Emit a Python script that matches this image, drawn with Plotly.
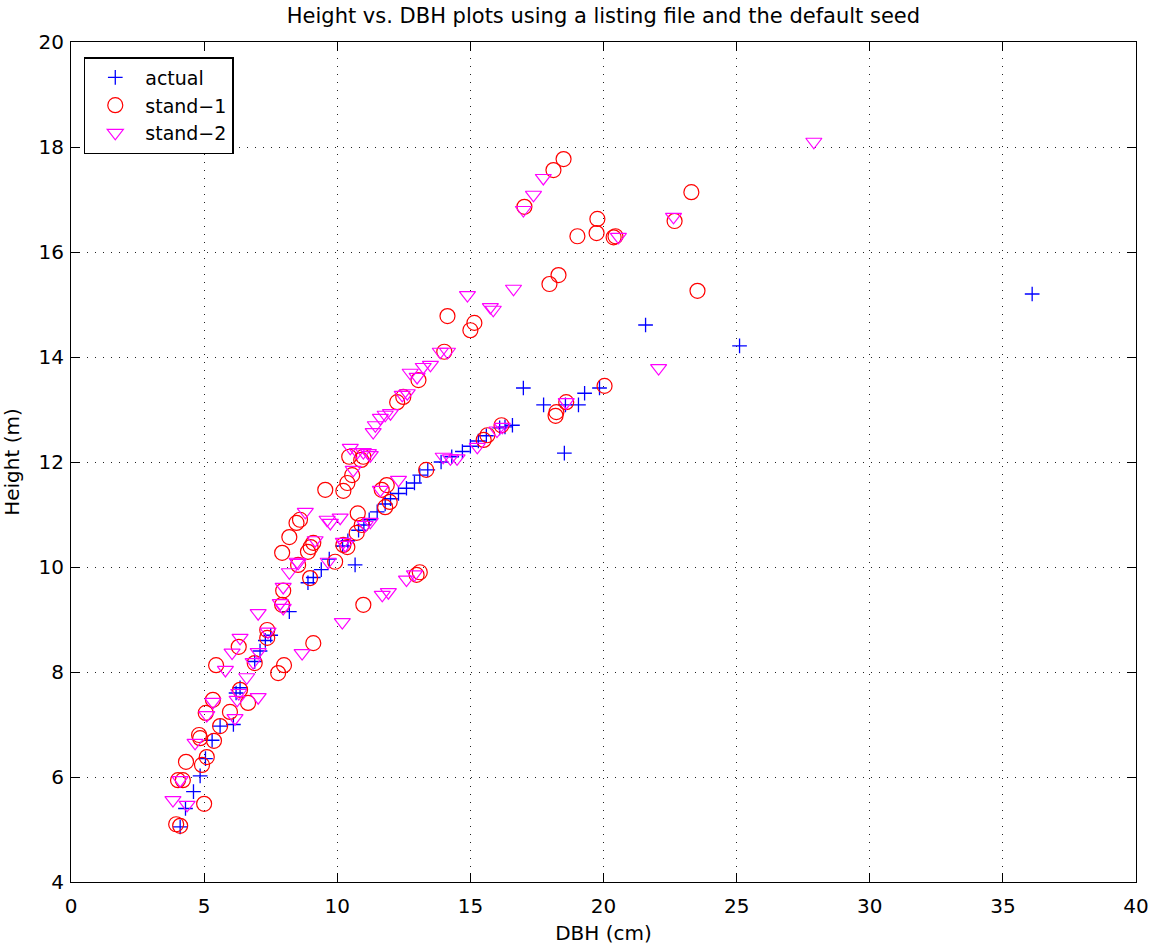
import plotly.graph_objects as go

# Measured trees (DBH in cm, height in m)
actual_dbh = [4.1, 4.3, 4.6, 4.85, 5.05, 5.3, 5.6, 6.1, 6.2, 6.35, 6.9, 7.1, 7.3, 7.5,
              8.2, 8.9, 9.1, 9.4, 9.7, 10.2, 10.4, 10.67, 10.8, 11.0, 11.2, 11.5, 11.8,
              12.0, 12.3, 12.6, 12.9, 13.1, 13.4, 13.9, 14.3, 14.7, 15.0, 15.3, 15.6,
              16.1, 16.3, 16.58, 16.99, 17.75, 18.53, 18.57, 19.06, 19.29, 19.85,
              21.58, 25.11, 36.1]
actual_ht = [5.05, 5.4, 5.72, 6.02, 6.35, 6.7, 6.97, 7.0, 7.6, 7.7, 8.2, 8.4, 8.6, 8.7,
             9.15, 9.7, 9.8, 9.95, 10.15, 10.4, 10.5, 10.04, 10.7, 10.8, 10.9, 11.05, 11.2,
             11.3, 11.4, 11.5, 11.6, 11.75, 11.85, 12.0, 12.1, 12.2, 12.3, 12.4, 12.5,
             12.65, 12.67, 12.7, 13.41, 13.09, 12.17, 13.09, 13.09, 13.31, 13.41,
             14.61, 14.21, 15.2]

# Simulated stand 1
stand1_dbh = [3.95, 4.1, 5.0, 4.02, 4.2, 4.32, 4.92, 5.1, 4.81, 4.85, 5.37, 5.6, 5.97,
              5.06, 5.33, 6.35, 6.65, 6.3, 5.45, 6.9, 7.37, 7.37, 7.78, 8.0, 7.93, 7.97,
              9.1, 7.93, 8.2, 8.47, 8.6, 8.9, 9.0, 9.1, 8.53, 8.98, 9.55, 9.92, 10.23,
              10.38, 10.56, 10.45, 10.9, 10.98, 10.77, 10.92, 10.73, 10.23, 10.38, 10.98,
              11.67, 11.86, 11.97, 11.8, 12.25, 12.48, 13.05, 13.34, 14.02, 14.14, 15.0,
              15.15, 15.5, 15.64, 16.17, 12.98, 13.1, 18.5, 18.12, 17.03, 19.02, 19.77,
              19.74, 20.38, 20.45, 22.67, 23.3, 18.31, 17.97, 23.53, 20.04, 18.2, 18.23,
              18.6]
stand1_ht = [5.1, 5.07, 5.49, 5.94, 5.94, 6.29, 6.23, 6.38, 6.8, 6.74, 6.69, 6.97, 7.24,
             7.22, 7.47, 7.66, 7.41, 8.48, 8.13, 8.17, 8.65, 8.8, 7.98, 8.13, 9.28, 9.55,
             8.55, 10.27, 10.57, 10.84, 10.9, 10.29, 10.38, 10.46, 10.04, 9.79, 11.47, 10.1,
             11.45, 11.6, 11.75, 12.1, 12.04, 12.1, 11.02, 10.8, 10.65, 10.42, 10.38, 9.28,
             11.47, 11.56, 11.24, 11.14, 13.14, 13.24, 13.56, 11.85, 14.1, 14.78, 14.51,
             14.65, 12.42, 12.51, 12.7, 9.85, 9.9, 17.77, 17.56, 16.86, 16.3, 16.63,
             16.36, 16.28, 16.3, 16.59, 17.14, 15.56, 15.39, 15.26, 13.45, 12.88, 12.95,
             13.14]

# Simulated stand 2
stand2_dbh = [3.83, 4.36, 4.1, 4.66, 5.1, 5.33, 5.8, 6.05, 6.35, 6.6, 7.03, 6.24, 6.3,
              6.16, 6.84, 7.03, 7.4, 8.68, 7.86, 7.03, 7.97, 7.97, 8.2, 8.49, 8.53, 8.8,
              9.17, 9.62, 9.66, 9.74, 10.11, 10.19, 10.49, 10.98, 11.24, 10.23, 10.3,
              11.05, 11.24, 11.62, 12.3, 11.35, 11.43, 11.62, 11.8, 12.0, 11.69, 11.92,
              10.75, 11.17, 10.6, 12.44, 12.63, 12.74, 13.0, 13.23, 13.5, 13.87, 14.14,
              14.89, 15.75, 15.86, 13.98, 14.25, 14.5, 15.26, 16.0, 16.2, 17.74, 17.37,
              16.99, 16.62, 20.56, 22.63, 22.07, 18.6, 27.9, 12.6, 12.9]
stand2_ht = [5.56, 5.47, 5.94, 6.65, 7.18, 7.43, 8.04, 8.37, 8.65, 7.9, 7.52, 7.47, 7.6,
             7.12, 8.19, 8.38, 8.77, 8.36, 9.31, 9.12, 9.22, 9.62, 9.9, 10.1, 10.08, 11.05,
             10.51, 10.9, 10.1, 10.84, 10.94, 8.95, 12.27, 12.19, 12.13, 10.48, 10.42,
             10.8, 10.86, 11.47, 11.66, 12.57, 12.7, 12.84, 12.9, 12.93, 9.47, 9.52,
             12.19, 12.17, 11.85, 13.28, 13.31, 13.7, 13.62, 13.81, 13.85, 14.1, 14.1,
             15.18, 14.95, 14.9, 12.1, 12.07, 12.07, 12.29, 12.6, 12.67, 17.41, 17.09,
             16.8, 15.3, 16.29, 16.67, 13.79, 13.14, 18.1, 9.76, 9.86]

x_ticks = [0, 5, 10, 15, 20, 25, 30, 35, 40]
y_ticks = [4, 6, 8, 10, 12, 14, 16, 18, 20]

FONT = "DejaVu Sans, Liberation Sans, Arial, sans-serif"

fig = go.Figure()
fig.add_trace(go.Scatter(
    x=actual_dbh, y=actual_ht, mode="markers", name="actual",
    marker=dict(symbol="cross-thin-open", size=10.5, color="#0000ff",
                line=dict(color="#0000ff", width=1.3)),
))
fig.add_trace(go.Scatter(
    x=stand1_dbh, y=stand1_ht, mode="markers", name="stand\u22121",
    marker=dict(symbol="circle-open", size=15, color="#ff0000",
                line=dict(color="#ff0000", width=1.2)),
))
fig.add_trace(go.Scatter(
    x=stand2_dbh, y=stand2_ht, mode="markers", name="stand\u22122",
    marker=dict(symbol="triangle-down-open", size=14, color="#ff00ff",
                line=dict(color="#ff00ff", width=1.2)),
))

axis_common = dict(
    showline=True, linecolor="black", linewidth=1, mirror="ticks",
    ticks="inside", ticklen=9, tickwidth=1, tickcolor="black",
    showgrid=True, gridcolor="#222222", gridwidth=1, griddash="1px,7px",
    zeroline=False, automargin=False,
    tickfont=dict(family=FONT, size=20, color="black"),
)

fig.update_xaxes(
    range=[0, 40], tickvals=x_ticks, ticktext=[str(v) for v in x_ticks],
    ticklabelstandoff=6,
    title=dict(text="DBH (cm)", font=dict(family=FONT, size=20, color="black")),
    **axis_common,
)
fig.update_yaxes(
    range=[4, 20], tickvals=y_ticks, ticktext=[str(v) for v in y_ticks],
    ticklabelstandoff=2,
    title=dict(text="Height (m)", font=dict(family=FONT, size=20, color="black")),
    **axis_common,
)

fig.update_layout(
    width=1156, height=945,
    margin=dict(l=71, r=20, t=42, b=63),
    paper_bgcolor="white", plot_bgcolor="white",
    title=dict(text="Height vs. DBH plots using a listing file and the default seed",
               font=dict(family=FONT, size=21, color="black"),
               x=0.522, xanchor="center", y=0.983, yanchor="middle"),
    legend=dict(x=0.012, y=0.982, xanchor="left", yanchor="top",
                bgcolor="white", bordercolor="black", borderwidth=1.5,
                font=dict(family=FONT, size=19, color="black"),
                itemwidth=50, tracegroupgap=0),
    showlegend=True,
)

fig.write_html("out.html")
